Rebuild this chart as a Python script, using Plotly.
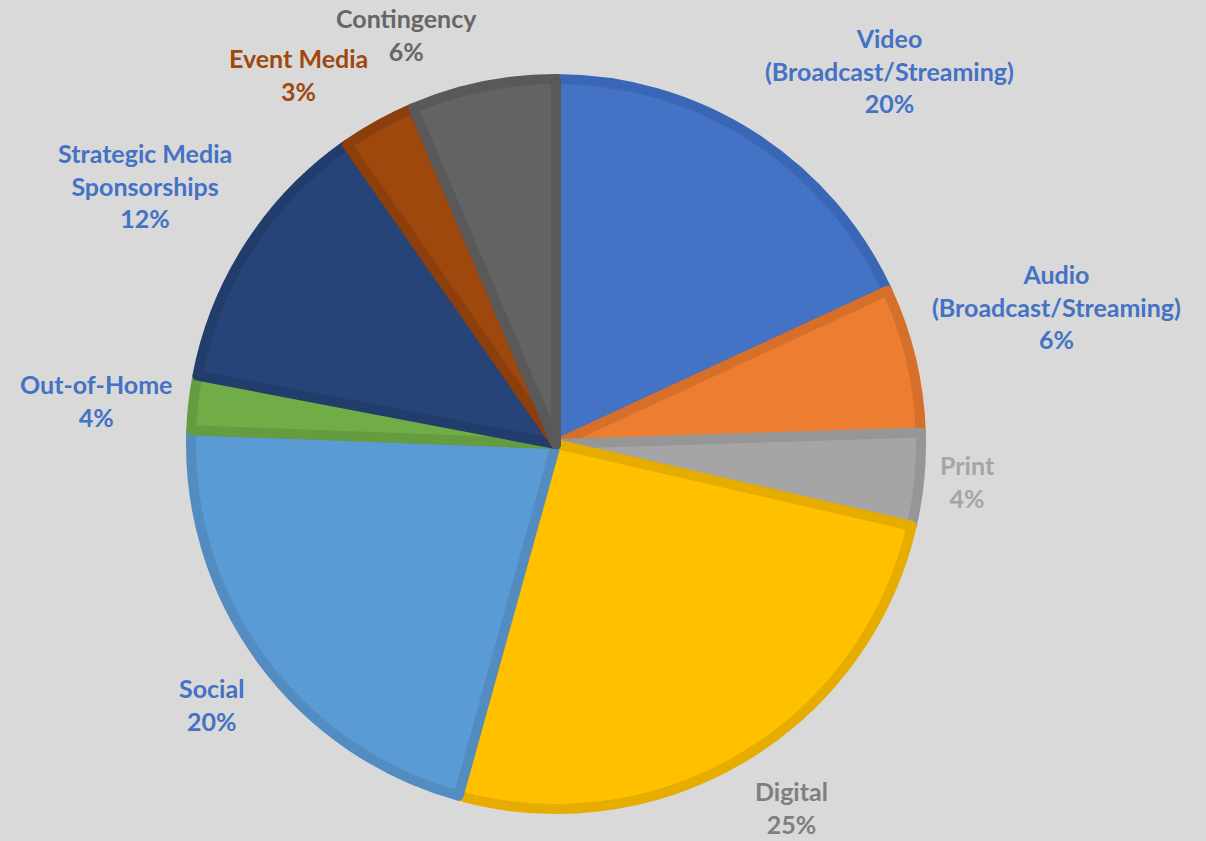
import math
import plotly.graph_objects as go

categories = ["Video (Broadcast/Streaming)", "Audio (Broadcast/Streaming)", "Print", "Digital",
              "Social", "Out-of-Home", "Strategic Media Sponsorships", "Event Media", "Contingency"]
label_lines = ["Video<br>(Broadcast/Streaming)", "Audio<br>(Broadcast/Streaming)", "Print", "Digital",
               "Social", "Out-of-Home", "Strategic Media<br>Sponsorships", "Event Media", "Contingency"]
shares = [18.1, 6.4, 4.1, 25.7, 21.3, 2.4, 12.3, 3.3, 6.4]
pct_labels = ["20%", "6%", "4%", "25%", "20%", "4%", "12%", "3%", "6%"]

fill_colors = ["#4472C4", "#ED7D31", "#A5A5A5", "#FFC000", "#5B9BD5", "#70AD47", "#264478", "#9E480E", "#636363"]
border_colors = ["#3A66B6", "#D66F2A", "#969696", "#E6AD00", "#538CC1", "#659C40", "#223C6C", "#8C3F0C", "#595959"]
label_colors = ["#4472C4", "#4472C4", "#A5A5A5", "#7F7F7F", "#4472C4", "#4472C4", "#4472C4", "#9E480E", "#666666"]

W, H = 1206, 841
dom_x = [191 / W, 921 / W]
dom_y = [31 / H, 763 / H]

fig = go.Figure(go.Pie(
    labels=categories,
    values=shares,
    textinfo="none",
    sort=False,
    direction="clockwise",
    rotation=0,
    marker=dict(colors=fill_colors, line=dict(color=border_colors, width=10)),
    domain=dict(x=dom_x, y=dom_y),
    showlegend=False,
    hoverinfo="label+percent",
))

# Outside labels placed along each slice's mid-angle (derived from the data)
cx = (dom_x[0] + dom_x[1]) / 2 * W
cy = (1 - (dom_y[0] + dom_y[1]) / 2) * H
radius = min((dom_x[1] - dom_x[0]) * W, (dom_y[1] - dom_y[0]) * H) / 2
gap = 19
total = sum(shares)
cum = 0.0
annotations = []
for name, pct, val, col in zip(label_lines, pct_labels, shares, label_colors):
    mid = (cum + val / 2) / total
    cum += val
    theta = 2 * math.pi * mid
    dx, dy = math.sin(theta), math.cos(theta)
    px = cx + (radius + gap) * dx
    py = cy - (radius + gap) * dy
    xa = "left" if dx > 0.1 else ("right" if dx < -0.1 else "center")
    ya = "bottom" if dy > 0.2 else ("top" if dy < -0.2 else "middle")
    annotations.append(dict(
        x=px / W, y=1 - py / H, xref="paper", yref="paper",
        text="<b>%s<br>%s</b>" % (name, pct),
        showarrow=False, xanchor=xa, yanchor=ya, align="center",
        font=dict(family="Lato", size=25, color=col),
    ))

fig.update_layout(
    width=W, height=H,
    margin=dict(l=0, r=0, t=0, b=0),
    paper_bgcolor="#D9D9D9",
    plot_bgcolor="#D9D9D9",
    showlegend=False,
    annotations=annotations,
)

fig.write_html("out.html")
